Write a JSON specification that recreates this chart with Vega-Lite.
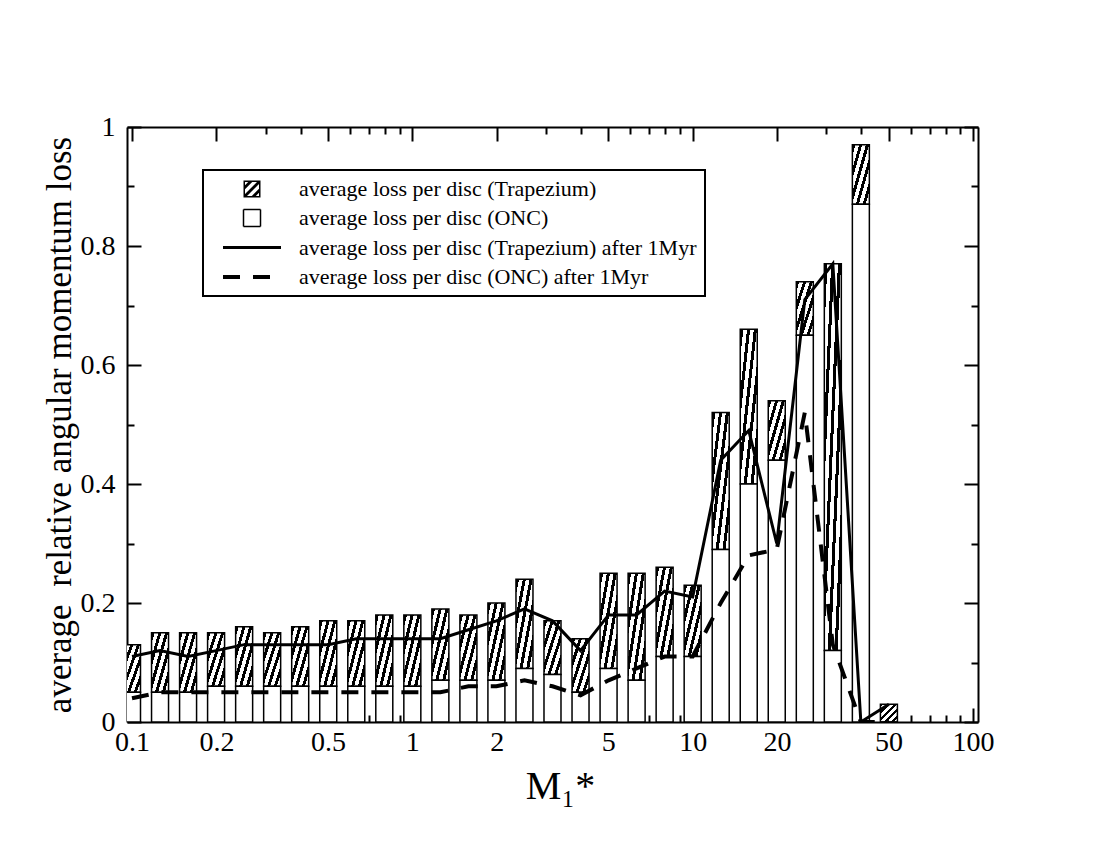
{
  "$schema": "https://vega.github.io/schema/vega-lite/v6.json",
  "width": 851,
  "height": 595,
  "autosize": {"type": "none"},
  "padding": {"left": 127, "top": 127, "right": 122, "bottom": 128},
  "background": "white",
  "config": {
    "view": {"stroke": null},
    "font": "Liberation Serif",
    "axis": {
      "labelFont": "Liberation Serif",
      "titleFont": "Liberation Serif",
      "labelColor": "black",
      "titleColor": "black",
      "domainColor": "black",
      "tickColor": "black",
      "domainWidth": 2,
      "tickWidth": 2,
      "grid": false,
      "zindex": 1,
      "titleFontWeight": "normal"
    },
    "legend": {
      "labelFont": "Liberation Serif",
      "strokeWidth": 2
    }
  },
  "data": {
    "values": [
      {"M": 0.1, "trap": 0.13, "onc": 0.05, "trap1": 0.11, "onc1": 0.04},
      {"M": 0.1259, "trap": 0.15, "onc": 0.05, "trap1": 0.12, "onc1": 0.05},
      {"M": 0.1585, "trap": 0.15, "onc": 0.05, "trap1": 0.11, "onc1": 0.05},
      {"M": 0.1995, "trap": 0.15, "onc": 0.06, "trap1": 0.12, "onc1": 0.05},
      {"M": 0.2512, "trap": 0.16, "onc": 0.06, "trap1": 0.13, "onc1": 0.05},
      {"M": 0.3162, "trap": 0.15, "onc": 0.06, "trap1": 0.13, "onc1": 0.05},
      {"M": 0.3981, "trap": 0.16, "onc": 0.06, "trap1": 0.13, "onc1": 0.05},
      {"M": 0.5012, "trap": 0.17, "onc": 0.06, "trap1": 0.13, "onc1": 0.05},
      {"M": 0.631, "trap": 0.17, "onc": 0.06, "trap1": 0.14, "onc1": 0.05},
      {"M": 0.7943, "trap": 0.18, "onc": 0.06, "trap1": 0.14, "onc1": 0.05},
      {"M": 1.0, "trap": 0.18, "onc": 0.06, "trap1": 0.14, "onc1": 0.05},
      {"M": 1.259, "trap": 0.19, "onc": 0.07, "trap1": 0.14, "onc1": 0.05},
      {"M": 1.585, "trap": 0.18, "onc": 0.07, "trap1": 0.155, "onc1": 0.06},
      {"M": 1.995, "trap": 0.2, "onc": 0.07, "trap1": 0.17, "onc1": 0.06},
      {"M": 2.512, "trap": 0.24, "onc": 0.09, "trap1": 0.19, "onc1": 0.07},
      {"M": 3.162, "trap": 0.17, "onc": 0.08, "trap1": 0.17, "onc1": 0.06},
      {"M": 3.981, "trap": 0.14, "onc": 0.05, "trap1": 0.12, "onc1": 0.045},
      {"M": 5.012, "trap": 0.25, "onc": 0.09, "trap1": 0.18, "onc1": 0.07},
      {"M": 6.31, "trap": 0.25, "onc": 0.07, "trap1": 0.18, "onc1": 0.09},
      {"M": 7.943, "trap": 0.26, "onc": 0.11, "trap1": 0.22, "onc1": 0.11},
      {"M": 10.0, "trap": 0.23, "onc": 0.11, "trap1": 0.21, "onc1": 0.11},
      {"M": 12.59, "trap": 0.52, "onc": 0.29, "trap1": 0.44, "onc1": 0.2},
      {"M": 15.85, "trap": 0.66, "onc": 0.4, "trap1": 0.49, "onc1": 0.28},
      {"M": 19.95, "trap": 0.54, "onc": 0.44, "trap1": 0.3, "onc1": 0.29},
      {"M": 25.12, "trap": 0.74, "onc": 0.65, "trap1": 0.71, "onc1": 0.52},
      {"M": 31.62, "trap": 0.77, "onc": 0.12, "trap1": 0.77, "onc1": 0.13},
      {"M": 39.81, "trap": 0.97, "onc": 0.87, "trap1": 0.0, "onc1": 0.0},
      {"M": 50.12, "trap": 0.03, "onc": 0.0, "trap1": 0.03, "onc1": 0.0}
    ]
  },
  "resolve": {"axis": {"x": "independent", "y": "independent"}},
  "layer": [
    {
      "mark": {
        "type": "bar",
        "width": 17,
        "clip": true,
        "stroke": "black",
        "strokeWidth": 1.5,
        "fill": {
          "gradient": "linear", "x1": 0, "y1": 0, "x2": 1, "y2": 1,
          "stops": [
            {"offset": 0, "color": "black"}, {"offset": 0.09, "color": "black"},
            {"offset": 0.09, "color": "white"}, {"offset": 0.2, "color": "white"},
            {"offset": 0.2, "color": "black"}, {"offset": 0.29, "color": "black"},
            {"offset": 0.29, "color": "white"}, {"offset": 0.4, "color": "white"},
            {"offset": 0.4, "color": "black"}, {"offset": 0.49, "color": "black"},
            {"offset": 0.49, "color": "white"}, {"offset": 0.6, "color": "white"},
            {"offset": 0.6, "color": "black"}, {"offset": 0.69, "color": "black"},
            {"offset": 0.69, "color": "white"}, {"offset": 0.8, "color": "white"},
            {"offset": 0.8, "color": "black"}, {"offset": 0.89, "color": "black"},
            {"offset": 0.89, "color": "white"}, {"offset": 1, "color": "white"}
          ]
        }
      },
      "encoding": {
        "x": {
          "field": "M", "type": "quantitative",
          "scale": {"type": "log", "domain": [0.1, 100], "nice": false},
          "axis": {
            "orient": "bottom",
            "title": "M₁*",
            "titleFontSize": 40,
            "titlePadding": 3,
            "titleX": 433,
            "labelFontSize": 28,
            "format": "~g",
            "values": [0.1, 0.2, 0.3, 0.4, 0.5, 0.6, 0.7, 0.8, 0.9, 1, 2, 3, 4, 5, 6, 7, 8, 9, 10, 20, 30, 40, 50, 60, 70, 80, 90, 100],
            "labelExpr": "indexof([0.1, 0.2, 0.5, 1, 2, 5, 10, 20, 50, 100], datum.value) >= 0 ? datum.label : ''",
            "tickSize": {"condition": {"test": "indexof([0.1, 0.2, 0.5, 1, 2, 5, 10, 20, 50, 100], datum.value) >= 0", "value": -14}, "value": -7},
            "labelPadding": 20,
            "labelFlush": false,
            "labelOverlap": false
          }
        },
        "y": {
          "field": "trap", "type": "quantitative",
          "scale": {"domain": [0, 1], "nice": false},
          "axis": {
            "orient": "left",
            "title": "average\u00a0 relative angular momentum loss",
            "titleFontSize": 35,
            "titlePadding": 3,
            "labelFontSize": 28,
            "format": "~g",
            "values": [0, 0.1, 0.2, 0.3, 0.4, 0.5, 0.6, 0.7, 0.8, 0.9, 1],
            "labelExpr": "round(datum.value * 10) % 2 == 0 ? datum.label : ''",
            "tickSize": {"condition": {"test": "round(datum.value * 10) % 2 == 0", "value": -14}, "value": -7},
            "labelPadding": 26,
            "labelFlush": false,
            "labelOverlap": false
          }
        },
        "y2": {"field": "onc"}
      }
    },
    {
      "mark": {"type": "bar", "width": 17, "clip": true, "fill": "white", "stroke": "black", "strokeWidth": 1.5},
      "encoding": {
        "x": {"field": "M", "type": "quantitative", "axis": null},
        "y": {"field": "onc", "type": "quantitative", "axis": null}
      }
    },
    {
      "mark": {"type": "line", "clip": true, "color": "black", "strokeWidth": 3},
      "encoding": {
        "x": {
          "field": "M", "type": "quantitative",
          "axis": {
            "orient": "top",
            "title": null,
            "labels": false,
            "values": [0.1, 0.2, 0.3, 0.4, 0.5, 0.6, 0.7, 0.8, 0.9, 1, 2, 3, 4, 5, 6, 7, 8, 9, 10, 20, 30, 40, 50, 60, 70, 80, 90, 100],
            "tickSize": {"condition": {"test": "indexof([0.1, 0.2, 0.5, 1, 2, 5, 10, 20, 50, 100], datum.value) >= 0", "value": -14}, "value": -7}
          }
        },
        "y": {
          "field": "trap1", "type": "quantitative",
          "axis": {
            "orient": "right",
            "title": null,
            "labels": false,
            "values": [0, 0.1, 0.2, 0.3, 0.4, 0.5, 0.6, 0.7, 0.8, 0.9, 1],
            "tickSize": {"condition": {"test": "round(datum.value * 10) % 2 == 0", "value": -14}, "value": -7}
          }
        }
      }
    },
    {
      "mark": {"type": "line", "clip": true, "color": "black", "strokeWidth": 4, "strokeDash": [17, 13]},
      "encoding": {
        "x": {"field": "M", "type": "quantitative", "axis": null},
        "y": {"field": "onc1", "type": "quantitative", "axis": null}
      }
    },
    {
      "data": {"values": []},
      "mark": {"type": "point", "filled": true, "stroke": "black", "opacity": 1},
      "encoding": {
        "x": {"field": "M", "type": "quantitative", "axis": null},
        "y": {"field": "trap", "type": "quantitative", "axis": null},
        "shape": {
          "datum": "average loss per disc (Trapezium)",
          "type": "nominal",
          "scale": {
            "type": "ordinal",
            "domain": [
              "average loss per disc (Trapezium)",
              "average loss per disc (ONC)",
              "average loss per disc (Trapezium) after 1Myr",
              "average loss per disc (ONC) after 1Myr"
            ],
            "range": [
              "M-0.85,-0.85H0.85V0.85H-0.85ZM-0.7,-0.7V0.7H0.7V-0.7ZM-0.7,0.5L0.5,-0.7L0.7,-0.7L0.7,-0.5L-0.5,0.7L-0.7,0.7ZM-0.7,-0.38L-0.38,-0.7L0.02,-0.7L-0.7,0.02ZM0.7,0.38L0.38,0.7L-0.02,0.7L0.7,-0.02Z",
              "M-0.85,-0.85H0.85V0.85H-0.85Z",
              "M-2.9,0H2.9",
              "M-2.9,0H2.9"
            ]
          },
          "legend": {"title": null, "orient": "none", "legendX": 76, "legendY": 43, "padding": 8, "fillColor": "white", "strokeColor": "black", "labelFont": "Liberation Serif", "labelFontSize": 22, "labelColor": "black", "labelLimit": 600, "symbolSize": 400, "symbolOffset": 29, "labelOffset": 35, "rowPadding": 6}
        },
        "fill": {
          "datum": "average loss per disc (Trapezium)",
          "type": "nominal",
          "scale": {
            "type": "ordinal",
            "domain": [
              "average loss per disc (Trapezium)",
              "average loss per disc (ONC)",
              "average loss per disc (Trapezium) after 1Myr",
              "average loss per disc (ONC) after 1Myr"
            ],
            "range": ["black", "white", "transparent", "transparent"]
          },
          "legend": {"title": null, "orient": "none", "legendX": 76, "legendY": 43, "padding": 8, "fillColor": "white", "strokeColor": "black", "labelFont": "Liberation Serif", "labelFontSize": 22, "labelColor": "black", "labelLimit": 600, "symbolSize": 400, "symbolOffset": 29, "labelOffset": 35, "rowPadding": 6}
        },
        "strokeDash": {
          "datum": "average loss per disc (Trapezium)",
          "type": "nominal",
          "scale": {
            "type": "ordinal",
            "domain": [
              "average loss per disc (Trapezium)",
              "average loss per disc (ONC)",
              "average loss per disc (Trapezium) after 1Myr",
              "average loss per disc (ONC) after 1Myr"
            ],
            "range": [[1, 0], [1, 0], [1, 0], [17, 13]]
          },
          "legend": {"title": null, "orient": "none", "legendX": 76, "legendY": 43, "padding": 8, "fillColor": "white", "strokeColor": "black", "labelFont": "Liberation Serif", "labelFontSize": 22, "labelColor": "black", "labelLimit": 600, "symbolSize": 400, "symbolOffset": 29, "labelOffset": 35, "rowPadding": 6}
        },
        "strokeWidth": {
          "datum": "average loss per disc (Trapezium)",
          "type": "nominal",
          "scale": {
            "type": "ordinal",
            "domain": [
              "average loss per disc (Trapezium)",
              "average loss per disc (ONC)",
              "average loss per disc (Trapezium) after 1Myr",
              "average loss per disc (ONC) after 1Myr"
            ],
            "range": [0, 1.5, 3, 4]
          },
          "legend": {"title": null, "orient": "none", "legendX": 76, "legendY": 43, "padding": 8, "fillColor": "white", "strokeColor": "black", "labelFont": "Liberation Serif", "labelFontSize": 22, "labelColor": "black", "labelLimit": 600, "symbolSize": 400, "symbolOffset": 29, "labelOffset": 35, "rowPadding": 6}
        }
      }
    }
  ]
}
